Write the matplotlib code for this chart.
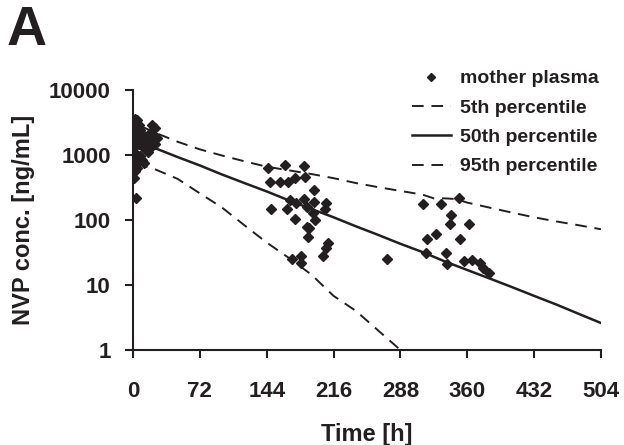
import numpy as np
import matplotlib.pyplot as plt
from matplotlib.ticker import FixedLocator, FixedFormatter, NullLocator

plt.rcParams['font.family'] = ['Liberation Sans', 'DejaVu Sans']
plt.rcParams['font.weight'] = 'bold'

ink = '#231f20'

# observed NVP concentrations in mother plasma (time [h], conc [ng/mL])
obs_t = [0, 2, 4, 6, 1, 3, 5, 8, 10, 12, 2, 4, 6, 8, 10, 12, 14, 16, 18, 20,
         24, 22, 14, 16, 18, 20, 0, 1, 2, 4, 6, 8, 10, 12, 0, 2, 4, 1, 3, 24, 26,
         164, 184, 145, 148, 158, 167, 174, 185, 195, 169, 176, 184, 195, 208,
         149, 166, 187, 207, 194, 196, 174, 187, 190, 188, 210, 208, 205, 171,
         181, 181,
         312, 332, 351, 342, 341, 362, 326, 317, 352, 316, 337, 338, 274, 357,
         365, 374, 377, 383]
obs_c = [3200, 3600, 3400, 2900, 2500, 2200, 2600, 2400, 2100, 1900, 1800, 1600,
         1500, 1700, 1400, 1300, 1600, 1800, 2200, 2900, 2600, 2000, 1200, 1100,
         1300, 1500, 1300, 1100, 1000, 900, 800, 950, 850, 760, 700, 560, 620,
         450, 220, 1500, 1800,
         700, 680, 625, 390, 390, 390, 440, 465, 290, 205, 180, 210, 190, 185,
         150, 146, 160, 146, 127, 100, 104, 77, 75, 55, 44, 37, 28, 25, 28, 22,
         175, 175, 220, 119, 86, 86, 60, 51, 51, 31, 31, 21, 25, 23, 24, 22, 18,
         15.5]

# simulated percentiles
p50_t = [0, 4, 12, 24, 48, 72, 96, 120, 144, 168, 192, 216, 240, 264, 288,
         312, 336, 360, 384, 408, 432, 456, 480, 504]
p50_c = [900, 1500, 1450, 1270, 930, 690, 500, 370, 275, 200, 148, 110, 80,
         59, 43, 32, 23, 17, 12.6, 9.3, 6.8, 5.0, 3.6, 2.6]

p95_t = [0, 8, 24, 48, 72, 96, 120, 144, 168, 192, 216, 240, 264, 288, 312,
         324, 336, 348, 360, 384, 408, 432, 456, 480, 504]
p95_c = [1500, 2800, 2200, 1600, 1220, 980, 800, 660, 580, 510, 440, 370, 320,
         280, 245, 215, 215, 210, 185, 155, 130, 110, 95, 83, 72]

p5_t = [0, 6, 14, 24, 48, 72, 96, 120, 144, 168, 192, 216, 240, 264, 288, 296]
p5_c = [400, 800, 660, 600, 430, 257, 155, 83, 45, 26, 14.5, 6.8, 4.0, 2.0,
        1.0, 0.8]

xticks = [0, 72, 144, 216, 288, 360, 432, 504]
yticks = [1, 10, 100, 1000, 10000]

fig = plt.figure(figsize=(6.24, 4.45), dpi=100)
ax = fig.add_axes([0.2131, 0.2135, 0.75, 0.5843])

ax.plot(obs_t, obs_c, 'D', color=ink, ms=5.4, ls='none', label='mother plasma',
        zorder=2)
ax.plot(p5_t, p5_c, color=ink, lw=1.4, dashes=(6, 4), label='5th percentile',
        zorder=3)
ax.plot(p50_t, p50_c, color=ink, lw=1.8, label='50th percentile', zorder=3)
ax.plot(p95_t, p95_c, color=ink, lw=1.4, dashes=(6, 4), label='95th percentile',
        zorder=3)

ax.set_yscale('log')
ax.set_xlim(0, 504)
ax.set_ylim(1, 10000)
ax.xaxis.set_major_locator(FixedLocator(xticks))
ax.set_xticklabels([str(v) for v in xticks])
ax.yaxis.set_major_locator(FixedLocator(yticks))
ax.yaxis.set_major_formatter(FixedFormatter([str(v) for v in yticks]))
ax.yaxis.set_minor_locator(NullLocator())

for s in ['top', 'right']:
    ax.spines[s].set_visible(False)
for s in ['left', 'bottom']:
    ax.spines[s].set_linewidth(1.5)
    ax.spines[s].set_color(ink)

ax.tick_params(direction='out', length=6, width=1.5, color=ink,
               labelsize=16, labelcolor=ink)
ax.tick_params(axis='x', pad=16)
ax.tick_params(axis='y', pad=10)

ax.set_xlabel('Time [h]', fontsize=17, color=ink, fontweight='bold')
ax.set_ylabel('NVP conc. [ng/mL]', fontsize=17, color=ink, fontweight='bold')
ax.xaxis.set_label_coords(0.5, -0.28)
ax.yaxis.set_label_coords(-0.21, 0.5)

ax.legend(loc='upper left', bbox_to_anchor=(0.66, 0.843),
          bbox_transform=fig.transFigure, frameon=False, fontsize=14,
          handlelength=2.0, handletextpad=0.5, labelspacing=0.6, borderpad=0,
          borderaxespad=0, markerscale=0.75, labelcolor=ink)

fig.text(0.011, 0.899, 'A', fontsize=40, color=ink, va='baseline')

fig.savefig('out.png', dpi=100)
